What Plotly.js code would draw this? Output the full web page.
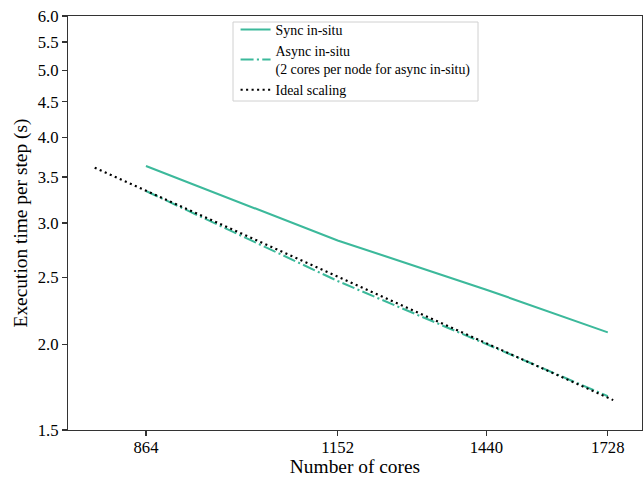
<!DOCTYPE html>
<html>
<head>
<meta charset="utf-8">
<script src="https://cdn.plot.ly/plotly-3.0.1.min.js"></script>
<style>html,body{margin:0;padding:0;background:#fff;}#chart{width:644px;height:477px;}</style>
</head>
<body>
<div id="chart"></div>
<script>
const cores = [864, 1152, 1440, 1728];
const syncTimes = [3.63, 2.83, 2.40, 2.08];
const asyncTimes = [3.34, 2.47, 2.00, 1.68];
const idealCores = [800, 1742];
const idealTimes = [3.61, 1.658];
const yTicks = [1.5, 2.0, 2.5, 3.0, 3.5, 4.0, 4.5, 5.0, 5.5, 6.0];
const yTickText = ["1.5", "2.0", "2.5", "3.0", "3.5", "4.0", "4.5", "5.0", "5.5", "6.0"];
const xTicks = [864, 1152, 1440, 1728];
const xTickText = ["864", "1152", "1440", "1728"];

const teal = "#3cb99b";
const traces = [
  {x: cores, y: syncTimes, mode: "lines", name: "Sync in-situ",
   line: {color: teal, width: 2.1}},
  {x: cores, y: asyncTimes, mode: "lines", name: "Async in-situ<br>(2 cores per node for async in-situ)",
   line: {color: teal, width: 2.1, dash: "13px,3.3px,2.1px,3.3px"}},
  {x: idealCores, y: idealTimes, mode: "lines", name: "Ideal scaling",
   line: {color: "#000", width: 2.1, dash: "2.1px,3.4px"}}
];

const fam = "Liberation Serif";
// plot area: x 68..642, y 16..430
const px = v => (v - 68) / 574;
const py = v => (430 - v) / 414;
const layout = {
  width: 644, height: 477,
  margin: {l: 68, r: 2, t: 16, b: 47},
  paper_bgcolor: "#fff", plot_bgcolor: "#fff",
  font: {family: fam, size: 16.7, color: "#000"},
  showlegend: true,
  legend: {x: 0.501, xanchor: "center", y: 1.005, yanchor: "top",
    bgcolor: "rgba(0,0,0,0)", borderwidth: 0,
    font: {family: fam, size: 13.9, color: "#000"}, tracegroupgap: 0},
  shapes: [{type: "rect", xref: "paper", yref: "paper",
    x0: px(233), x1: px(478), y0: py(101), y1: py(22),
    line: {color: "#d0d0d0", width: 1}, fillcolor: "rgba(255,255,255,0.8)", layer: "above"}],
  xaxis: {type: "log", range: [Math.log10(768.6), Math.log10(1819)],
    tickvals: xTicks, ticktext: xTickText, ticks: "outside", ticklen: 5, tickwidth: 1.1,
    tickcolor: "#333", showline: true, linecolor: "#333", linewidth: 1.1, mirror: true,
    showgrid: false, zeroline: false, ticklabelstandoff: -3,
    tickfont: {family: fam, size: 16.7, color: "#000"},
    title: {text: "Number of cores", font: {family: fam, size: 19.4, color: "#000"}, standoff: 4}},
  yaxis: {type: "log", range: [Math.log10(1.5), Math.log10(6.0)],
    tickvals: yTicks, ticktext: yTickText, ticks: "outside", ticklen: 5, tickwidth: 1.1,
    tickcolor: "#333", showline: true, linecolor: "#333", linewidth: 1.1, mirror: true,
    showgrid: false, zeroline: false, tickfont: {family: fam, size: 16.7, color: "#000"},
    title: {text: "Execution time per step (s)", font: {family: fam, size: 19.4, color: "#000"}, standoff: 4}}
};
Plotly.newPlot("chart", traces, layout, {displayModeBar: false, staticPlot: true});
</script>
</body>
</html>
